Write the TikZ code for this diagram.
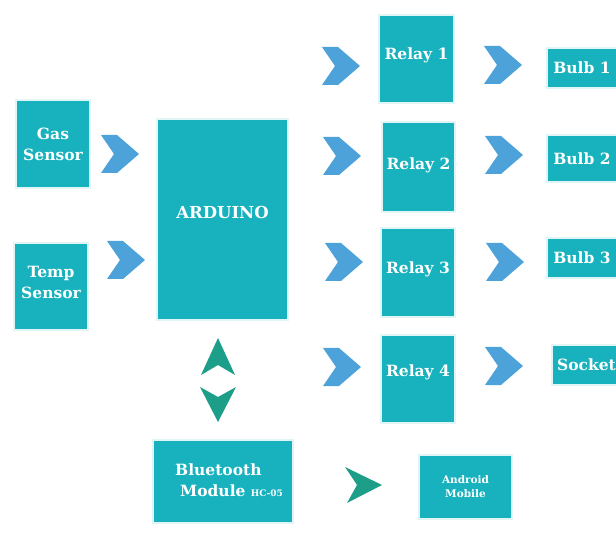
\documentclass[tikz,border=0pt]{standalone}
\usepackage{fontspec}
\setmainfont{DejaVu Serif}
\definecolor{tealbox}{HTML}{17B2BD}
\definecolor{boxedge}{HTML}{E2F5F6}
\definecolor{chevblue}{HTML}{4EA2DA}
\definecolor{chevgreen}{HTML}{1C9E88}
\tikzset{
  box/.style={fill=tealbox, draw=boxedge, line width=1.2pt, inner sep=0pt},
  lbl/.style={text=white, font=\bfseries\fontsize{15.5}{21}\selectfont, align=center, inner sep=0pt},
  chevR/.pic={\fill[chevblue] (-19,-19) -- (-3,-19) -- (19,0) -- (-3,19) -- (-19,19) -- (-6,0) -- cycle;},
  chevU/.pic={\fill[chevgreen] (0,-19) -- (17,18) -- (0,8) -- (-17,18) -- cycle;},
  chevD/.pic={\fill[chevgreen] (0,18) -- (18,-17) -- (0,-7) -- (-18,-17) -- cycle;},
  chevG/.pic={\fill[chevgreen] (-17,-18) -- (20,0) -- (-15,18) -- (-5,0) -- cycle;},
}
\begin{document}
\begin{tikzpicture}[x=1pt,y=-1pt]
\useasboundingbox[fill=white] (0,0) rectangle (616,537);
% sensors
\node[box, minimum width=74pt, minimum height=88pt, label={[lbl]center:Gas\\Sensor}] (gas) at (53,144) {};
\node[box, minimum width=74pt, minimum height=87pt, label={[lbl,yshift=4pt]center:Temp\\Sensor}] (temp) at (51,286.5) {};
% arduino
\node[box, minimum width=131pt, minimum height=201pt, label={[lbl,yshift=7pt,font=\bfseries\fontsize{16.5}{20}\selectfont]center:ARDUINO}] (ard) at (222.5,219.5) {};
% relays
\node[box, minimum width=75pt, minimum height=88pt, label={[lbl,yshift=4pt]center:Relay 1}] (r1) at (416.5,59) {};
\node[box, minimum width=73pt, minimum height=90pt, label={[lbl,yshift=2pt]center:Relay 2}] (r2) at (418.5,167) {};
\node[box, minimum width=74pt, minimum height=89pt, label={[lbl,yshift=3pt]center:Relay 3}] (r3) at (418,272.5) {};
\node[box, minimum width=74pt, minimum height=88pt, label={[lbl,yshift=7pt]center:Relay 4}] (r4) at (418,379) {};
% loads
\node[box, minimum width=72pt, minimum height=40pt, label={[lbl,xshift=-1pt]center:Bulb 1}] (b1) at (583,68) {};
\node[box, minimum width=72pt, minimum height=47pt, label={[lbl,xshift=-1pt]center:Bulb 2}] (b2) at (583,158.5) {};
\node[box, minimum width=72pt, minimum height=40pt, label={[lbl,xshift=-1pt]center:Bulb 3}] (b3) at (583,258) {};
\node[box, minimum width=67pt, minimum height=40pt, label={[lbl,xshift=1pt]center:Socket}] (sock) at (585.5,365) {};
% bluetooth and mobile
\node[box, minimum width=140pt, minimum height=83pt,
  label={[lbl,xshift=6pt,yshift=1pt,align=left]center:Bluetooth\\\hspace*{5pt}Module {\fontsize{9}{10}\selectfont HC-05}}] (bt) at (223,481.5) {};
\node[box, minimum width=93pt, minimum height=64pt,
  label={[lbl,font=\bfseries\fontsize{10.5}{14}\selectfont]center:Android\\Mobile}] (mob) at (465.5,487) {};
% chevrons
\pic at (120,154) {chevR};
\pic at (126,260) {chevR};
\pic at (341,66) {chevR};
\pic at (342,156) {chevR};
\pic at (344,262) {chevR};
\pic at (342,367) {chevR};
\pic at (503,65) {chevR};
\pic at (504,155) {chevR};
\pic at (505,262) {chevR};
\pic at (504,366) {chevR};
\pic at (218,357) {chevU};
\pic at (218,404) {chevD};
\pic at (362,485) {chevG};
\end{tikzpicture}
\end{document}
